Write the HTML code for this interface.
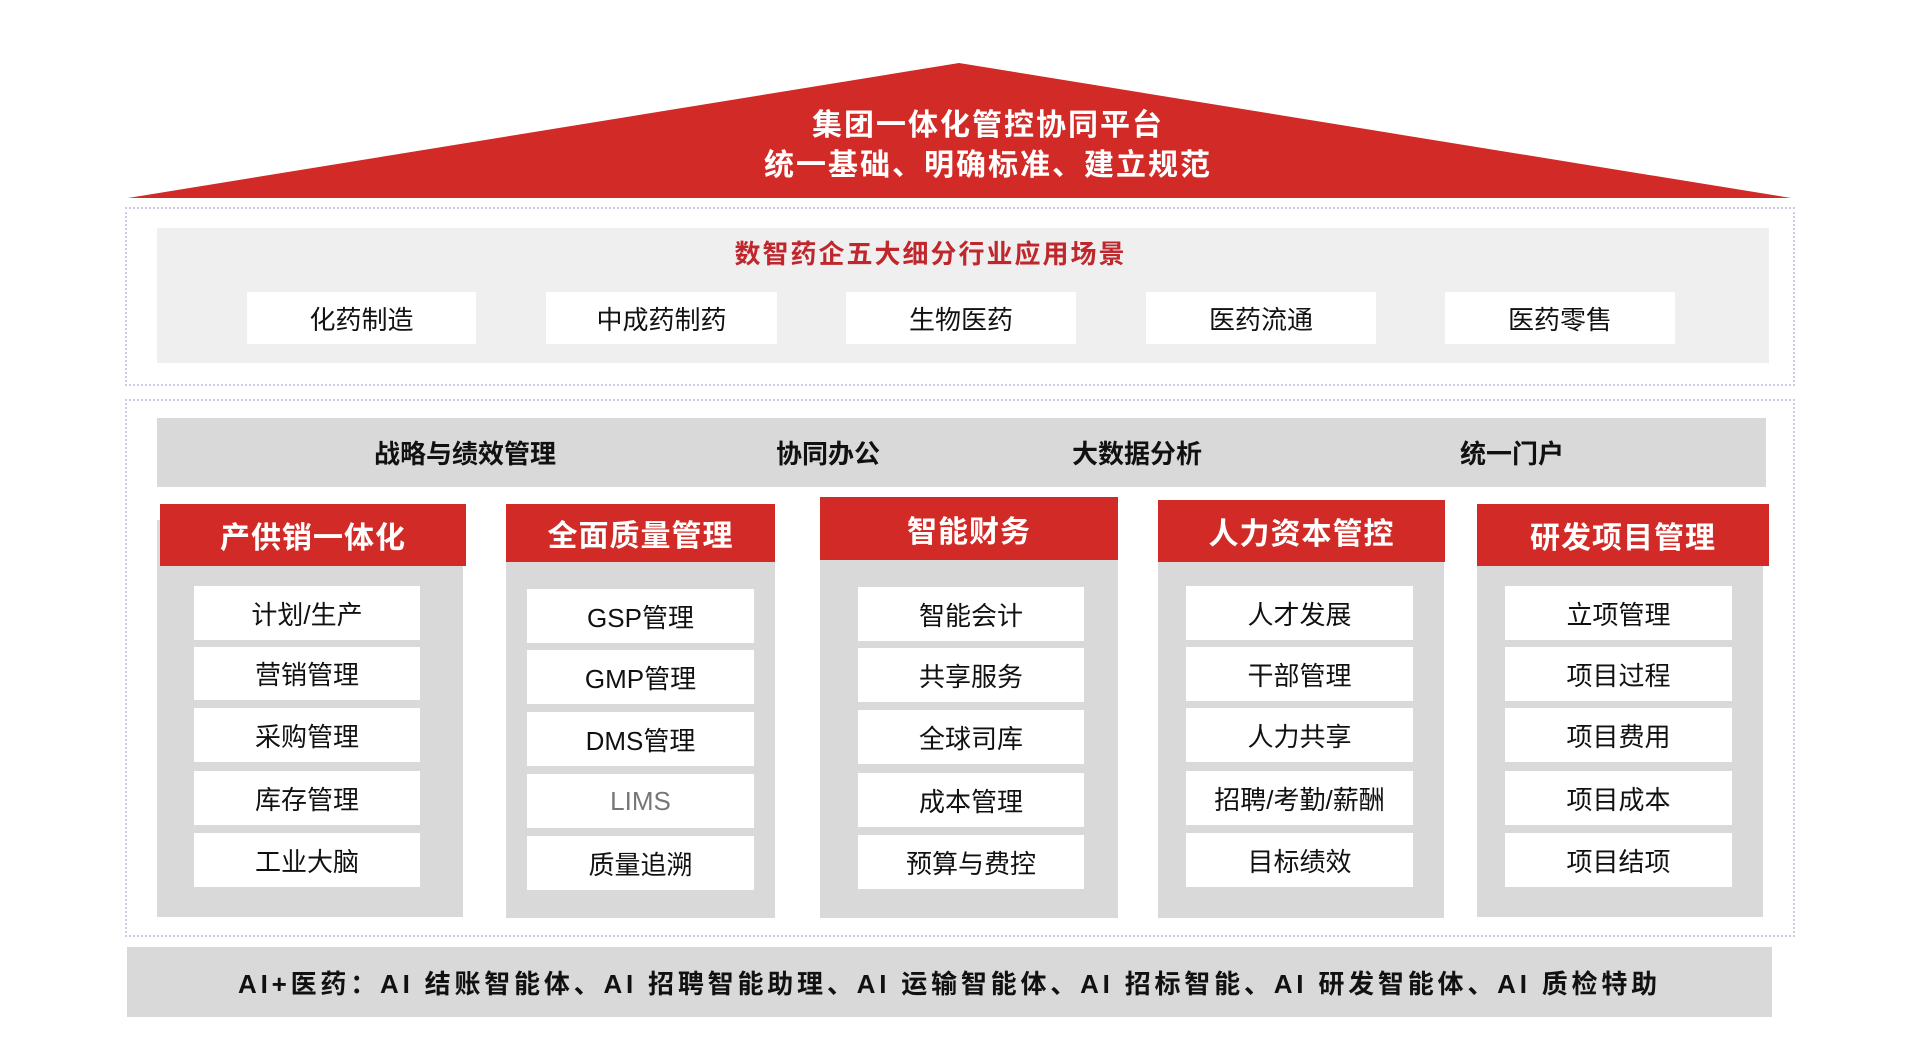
<!DOCTYPE html>
<html><head><meta charset="utf-8"><style>
*{margin:0;padding:0;box-sizing:border-box}
body{width:1918px;height:1053px;background:#fff;position:relative;overflow:hidden;font-family:"Liberation Sans","Noto Sans CJK SC",sans-serif}
.a{position:absolute}
.c{display:flex;align-items:center;justify-content:center;white-space:nowrap}
.dot{border:2px dotted #c8cde0}
.wb{background:#fff;font-size:26px;color:#111}
.hd{background:#d22a26;color:#fff;font-weight:bold;font-size:30px;letter-spacing:1px}
.body{background:#d9d9d9}
.bt{font-size:26px;font-weight:bold;color:#111;top:418px;height:69px}
</style></head><body>
<svg class="a" style="left:0;top:0" width="1918" height="210"><polygon points="959,63 1791,198 128,198" fill="#d22a26"/></svg>
<div class="a c" style="left:0;width:1918px;top:102px;height:40px;color:#fff;font-weight:bold;font-size:30px;letter-spacing:2px;padding-left:58px">集团一体化管控协同平台</div>
<div class="a c" style="left:0;width:1918px;top:142px;height:40px;color:#fff;font-weight:bold;font-size:30px;letter-spacing:2px;padding-left:58px">统一基础、明确标准、建立规范</div>

<div class="a dot" style="left:125px;top:207px;width:1670px;height:179px"></div>
<div class="a" style="left:157px;top:228px;width:1612px;height:135px;background:#efefef"></div>
<div class="a c" style="left:735px;width:391px;top:236px;height:32px;color:#c0272d;font-weight:bold;font-size:26px;letter-spacing:2px">数智药企五大细分行业应用场景</div>
<div class="a c wb" style="left:247px;top:292px;width:229px;height:52px">化药制造</div>
<div class="a c wb" style="left:546px;top:292px;width:231px;height:52px">中成药制药</div>
<div class="a c wb" style="left:846px;top:292px;width:230px;height:52px">生物医药</div>
<div class="a c wb" style="left:1146px;top:292px;width:230px;height:52px">医药流通</div>
<div class="a c wb" style="left:1445px;top:292px;width:230px;height:52px">医药零售</div>

<div class="a dot" style="left:125px;top:399px;width:1670px;height:538px"></div>
<div class="a" style="left:157px;top:418px;width:1609px;height:69px;background:#d9d9d9"></div>
<div class="a c bt" style="left:365px;width:200px">战略与绩效管理</div>
<div class="a c bt" style="left:758px;width:140px">协同办公</div>
<div class="a c bt" style="left:1057px;width:160px">大数据分析</div>
<div class="a c bt" style="left:1442px;width:140px">统一门户</div>

<div class="a body" style="left:157px;top:520px;width:306px;height:397px"></div>
<div class="a c hd" style="left:160px;top:504px;width:306px;height:62px">产供销一体化</div>
<div class="a c wb" style="left:194px;top:586px;width:226px;height:54px">计划/生产</div>
<div class="a c wb" style="left:194px;top:647px;width:226px;height:53px">营销管理</div>
<div class="a c wb" style="left:194px;top:708px;width:226px;height:54px">采购管理</div>
<div class="a c wb" style="left:194px;top:771px;width:226px;height:54px">库存管理</div>
<div class="a c wb" style="left:194px;top:833px;width:226px;height:54px">工业大脑</div>

<div class="a body" style="left:506px;top:520px;width:269px;height:398px"></div>
<div class="a c hd" style="left:506px;top:504px;width:269px;height:58px">全面质量管理</div>
<div class="a c wb" style="left:527px;top:589px;width:227px;height:54px">GSP管理</div>
<div class="a c wb" style="left:527px;top:650px;width:227px;height:54px">GMP管理</div>
<div class="a c wb" style="left:527px;top:712px;width:227px;height:54px">DMS管理</div>
<div class="a c wb" style="left:527px;top:774px;width:227px;height:54px;color:#777">LIMS</div>
<div class="a c wb" style="left:527px;top:836px;width:227px;height:54px">质量追溯</div>

<div class="a body" style="left:820px;top:520px;width:298px;height:398px"></div>
<div class="a c hd" style="left:820px;top:497px;width:298px;height:63px">智能财务</div>
<div class="a c wb" style="left:858px;top:587px;width:226px;height:54px">智能会计</div>
<div class="a c wb" style="left:858px;top:648px;width:226px;height:54px">共享服务</div>
<div class="a c wb" style="left:858px;top:710px;width:226px;height:54px">全球司库</div>
<div class="a c wb" style="left:858px;top:773px;width:226px;height:54px">成本管理</div>
<div class="a c wb" style="left:858px;top:835px;width:226px;height:54px">预算与费控</div>

<div class="a body" style="left:1158px;top:520px;width:286px;height:398px"></div>
<div class="a c hd" style="left:1158px;top:500px;width:287px;height:62px">人力资本管控</div>
<div class="a c wb" style="left:1186px;top:586px;width:227px;height:54px">人才发展</div>
<div class="a c wb" style="left:1186px;top:647px;width:227px;height:54px">干部管理</div>
<div class="a c wb" style="left:1186px;top:708px;width:227px;height:54px">人力共享</div>
<div class="a c wb" style="left:1186px;top:771px;width:227px;height:54px">招聘/考勤/薪酬</div>
<div class="a c wb" style="left:1186px;top:833px;width:227px;height:54px">目标绩效</div>

<div class="a body" style="left:1477px;top:520px;width:286px;height:397px"></div>
<div class="a c hd" style="left:1477px;top:504px;width:292px;height:62px">研发项目管理</div>
<div class="a c wb" style="left:1505px;top:586px;width:227px;height:54px">立项管理</div>
<div class="a c wb" style="left:1505px;top:647px;width:227px;height:54px">项目过程</div>
<div class="a c wb" style="left:1505px;top:708px;width:227px;height:54px">项目费用</div>
<div class="a c wb" style="left:1505px;top:771px;width:227px;height:54px">项目成本</div>
<div class="a c wb" style="left:1505px;top:833px;width:227px;height:54px">项目结项</div>

<div class="a c" style="left:127px;top:947px;width:1645px;height:70px;background:#d9d9d9;font-weight:bold;font-size:26px;letter-spacing:3.8px;color:#111">AI+医药：AI 结账智能体、AI 招聘智能助理、AI 运输智能体、AI 招标智能、AI 研发智能体、AI 质检特助</div>
</body></html>
